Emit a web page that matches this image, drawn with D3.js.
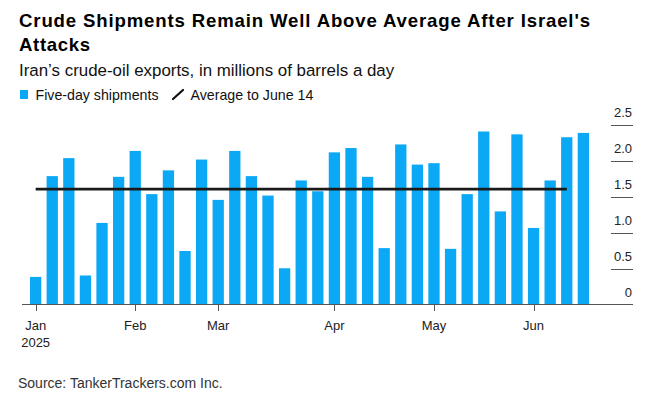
<!DOCTYPE html>
<html>
<head>
<meta charset="utf-8">
<script src="https://cdn.jsdelivr.net/npm/d3@7"></script>
<style>
  body { margin: 0; background: #fff; }
  svg { display: block; font-family: "Liberation Sans", Arial, sans-serif; }
</style>
</head>
<body>
<svg width="646" height="397"></svg>
<script>
var svg = d3.select("svg"),
    width = +svg.attr("width"),
    height = +svg.attr("height");

// five-day periods, by start date
var periods = ["2025-01-01", "2025-01-06", "2025-01-11", "2025-01-16", "2025-01-21", "2025-01-26",
  "2025-01-31", "2025-02-05", "2025-02-10", "2025-02-15", "2025-02-20", "2025-02-25",
  "2025-03-02", "2025-03-07", "2025-03-12", "2025-03-17", "2025-03-22", "2025-03-27",
  "2025-04-01", "2025-04-06", "2025-04-11", "2025-04-16", "2025-04-21", "2025-04-26",
  "2025-05-01", "2025-05-06", "2025-05-11", "2025-05-16", "2025-05-21", "2025-05-26",
  "2025-05-31", "2025-06-05", "2025-06-10", "2025-06-15"];

var shipments = [0.39, 1.79, 2.04, 0.41, 1.14, 1.78, 2.14, 1.54, 1.87, 0.75, 2.02, 1.46,
  2.14, 1.79, 1.52, 0.51, 1.73, 1.58, 2.12, 2.18, 1.78, 0.79, 2.23, 1.95,
  1.97, 0.78, 1.54, 2.41, 1.30, 2.37, 1.07, 1.73, 2.33, 2.39];

var average = 1.61;
var averageFrom = "2025-01-01", averageTo = "2025-06-10";

var monthTicks = ["2025-01-01", "2025-01-31", "2025-02-25", "2025-04-01", "2025-05-01", "2025-05-31"];
var monthLabels = ["Jan", "Feb", "Mar", "Apr", "May", "Jun"];
var yTicks = [0, 0.5, 1, 1.5, 2, 2.5];

var blue = "#0ba8f5";

var x = d3.scaleBand()
    .domain(periods)
    .range([30, 589])
    .paddingInner(0.32)
    .paddingOuter(0);

var y = d3.scaleLinear()
    .domain([0, 2.5])
    .range([305, 125]);

// title block
var title = svg.append("text")
    .attr("x", 19)
    .style("font-weight", "bold")
    .style("font-size", "18.6px")
    .style("fill", "#000");
title.append("tspan").attr("x", 19).attr("y", 27)
    .attr("textLength", 571).attr("lengthAdjust", "spacing")
    .text("Crude Shipments Remain Well Above Average After Israel's");
title.append("tspan").attr("x", 19).attr("y", 50.5).attr("textLength", 71).attr("lengthAdjust", "spacing").text("Attacks");

svg.append("text")
    .attr("x", 19)
    .attr("y", 76)
    .style("font-size", "16.9px")
    .style("fill", "#111")
    .text("Iran\u2019s crude-oil exports, in millions of barrels a day");

// legend
var legend = svg.append("g").style("font-size", "14.2px").style("fill", "#111");
legend.append("rect")
    .attr("x", 20).attr("y", 90)
    .attr("width", 8).attr("height", 9)
    .style("fill", blue);
legend.append("text").attr("x", 35.5).attr("y", 100).text("Five-day shipments");
legend.append("line")
    .attr("x1", 173).attr("y1", 99)
    .attr("x2", 183).attr("y2", 90)
    .style("stroke", "#111")
    .style("stroke-width", 2.2)
    .style("stroke-linecap", "round");
legend.append("text").attr("x", 190.5).attr("y", 100).text("Average to June 14");

// y axis on the right: short tick lines with labels above
var yAxis = svg.append("g").attr("class", "y-axis");
yAxis.selectAll("line")
  .data(yTicks.slice(1))
  .enter().append("line")
    .attr("x1", 611).attr("x2", 633)
    .attr("y1", function(d) { return Math.round(y(d)) + 0.5; })
    .attr("y2", function(d) { return Math.round(y(d)) + 0.5; })
    .style("stroke", "#555")
    .style("stroke-width", 1);
yAxis.selectAll("text")
  .data(yTicks)
  .enter().append("text")
    .attr("x", 632)
    .attr("y", function(d) { return y(d) - 8; })
    .attr("text-anchor", "end")
    .style("font-size", "13px")
    .style("fill", "#222")
    .text(function(d) { return d === 0 ? "0" : d3.format(".1f")(d); });

// bars
svg.selectAll("rect.bar")
  .data(periods)
  .enter().append("rect")
    .attr("class", "bar")
    .attr("x", function(d) { return x(d); })
    .attr("y", function(d, i) { return y(shipments[i]); })
    .attr("width", x.bandwidth())
    .attr("height", function(d, i) { return y(0) - y(shipments[i]); })
    .style("fill", blue);

// baseline
svg.append("line")
    .attr("x1", 22).attr("x2", 633)
    .attr("y1", 304.5).attr("y2", 304.5)
    .style("stroke", "#555")
    .style("stroke-width", 1.2);

// average line
svg.append("line")
    .attr("x1", x(averageFrom) + x.bandwidth() / 2)
    .attr("x2", x(averageTo) + x.bandwidth() / 2)
    .attr("y1", y(average)).attr("y2", y(average))
    .style("stroke", "#1a1a1a")
    .style("stroke-width", 2.6);

// x axis: month ticks at the bar holding each month start
var xAxis = svg.append("g").attr("class", "x-axis");
xAxis.selectAll("line")
  .data(monthTicks)
  .enter().append("line")
    .attr("x1", function(d) { return Math.round(x(d) + x.bandwidth() / 2) + 0.5; })
    .attr("x2", function(d) { return Math.round(x(d) + x.bandwidth() / 2) + 0.5; })
    .attr("y1", 305).attr("y2", 311)
    .style("stroke", "#555");
xAxis.selectAll("text")
  .data(monthTicks)
  .enter().append("text")
    .attr("x", function(d) { return x(d) + x.bandwidth() / 2; })
    .attr("y", 330)
    .attr("text-anchor", "middle")
    .style("font-size", "13px")
    .style("fill", "#222")
    .text(function(d, i) { return monthLabels[i]; });
xAxis.append("text")
    .attr("x", x(monthTicks[0]) + x.bandwidth() / 2)
    .attr("y", 347)
    .attr("text-anchor", "middle")
    .style("font-size", "13px")
    .style("fill", "#222")
    .text("2025");

svg.append("text")
    .attr("x", 18)
    .attr("y", 388)
    .style("font-size", "14px")
    .style("fill", "#333")
    .text("Source: TankerTrackers.com Inc.");
</script>
</body>
</html>
